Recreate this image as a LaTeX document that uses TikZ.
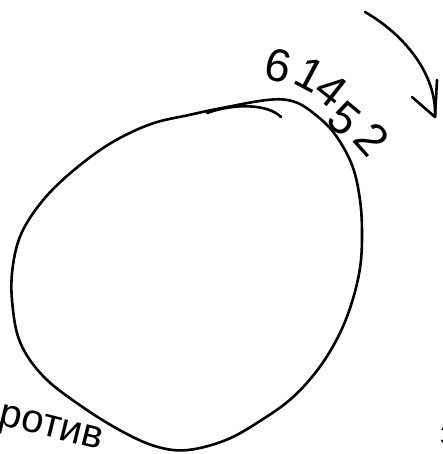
\documentclass[tikz,border=0pt]{standalone}
\usepackage{fontspec}
\setmainfont{Liberation Sans}

\begin{document}
\begin{tikzpicture}[x=1pt,y=-1pt,line cap=round,line join=round]
\tikzset{pen/.style={line width=2.6pt},
  hand/.style={inner sep=0pt,font=\fontsize{46}{46}\selectfont}}
%set diagram size 443 x 454
\useasboundingbox (0,0) rectangle (443,454);
\clip (0,0) rectangle (443,454);

%Egg outline
\draw [pen] plot [smooth cycle,tension=0.6] coordinates {(267,100) (292,101) (312,112) (334,133) (352,165) (360,200) (362,235) (360,268) (352,302) (339,335) (319,368) (292,398) (260,421) (226,440) (188,450) (158,447) (125,433) (84,408) (44,377) (20,342) (12,300) (13,265) (22,232) (44,199) (74,170) (111,143) (151,124) (189,115) (222,108)};
%Small overlap stroke at the top
\draw [pen] (207,113) .. controls (235,103) and (268,104) .. (281,117) ;

%Curved arrow
\coordinate (arrS) at (365,12);
\coordinate (arrE) at (435,117);
\coordinate (barbL) at (412,97);
\coordinate (barbR) at (437,80);
\draw [pen] (arrS) .. controls (405,35) and (437,75) .. (arrE);
\draw [pen] (barbL) -- (arrE) -- (barbR);

%Number along the outline
\foreach \d/\px/\py/\r [count=\i] in {6/278/66/-12, 1/310/75/-28, 4/331/90/-38, 5/344/119/-40, 2/372/139/-48}
  \node [hand,rotate=\r] (dig\i) at (\px,\py) {\d};

%Cut-off words
\node [hand,rotate=-14,font=\fontsize{40}{40}\selectfont] (protiv) at (40,428) {против};
\node [hand,font=\fontsize{34}{34}\selectfont] (zfrag) at (448,436) {з};

\end{tikzpicture}
\end{document}
